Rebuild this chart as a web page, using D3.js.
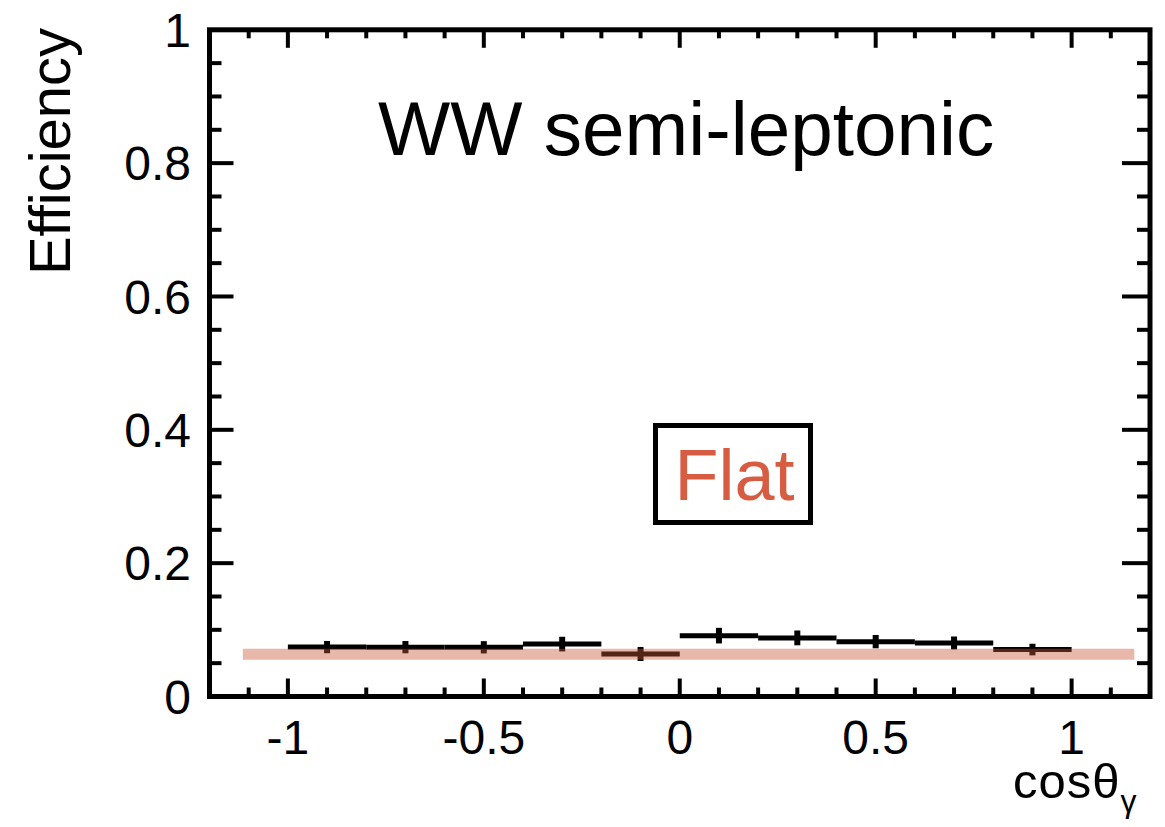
<!DOCTYPE html>
<html>
<head>
<meta charset="utf-8">
<script src="https://cdn.jsdelivr.net/npm/d3@7"></script>
<style>
    body { margin: 0; background: white; }
    svg text { font-family: "Liberation Sans", Arial, Helvetica, sans-serif; }
</style>
</head>
<body>
<svg id="chart"></svg>
<script>
// Bin edges of cos(theta_gamma) and measured efficiency per bin
const binLow = [-1.0, -0.8, -0.6, -0.4, -0.2, 0.0, 0.2, 0.4, 0.6, 0.8];
const binHigh = [-0.8, -0.6, -0.4, -0.2, 0.0, 0.2, 0.4, 0.6, 0.8, 1.0];
const efficiency = [0.0741, 0.0740, 0.0738, 0.0786, 0.0638, 0.0913, 0.0879, 0.0823, 0.0803, 0.0704];
const efficiencyErr = [0.0092, 0.0092, 0.0092, 0.0110, 0.0105, 0.0117, 0.0111, 0.0100, 0.0097, 0.0087];

// Flat fit
const flatValue = 0.0635;
const flatRange = [-1.115, 1.16];

// Axes
const xTicks = [-1, -0.5, 0, 0.5, 1];
const xTickLabels = ["-1", "-0.5", "0", "0.5", "1"];
const yTicks = [0, 0.2, 0.4, 0.6, 0.8, 1];
const yTickLabels = ["0", "0.2", "0.4", "0.6", "0.8", "1"];
const xDomain = [-1.2, 1.2];
const yDomain = [0, 1];

const data = binLow.map((lo, i) => ({
    lo,
    hi: binHigh[i],
    mid: (lo + binHigh[i]) / 2,
    val: efficiency[i],
    err: efficiencyErr[i]
}));

const W = 1165, H = 827;
const box = { left: 209.5, right: 1150, top: 29.8, bottom: 696.5 };

const svg = d3.select("#chart")
    .attr("width", W)
    .attr("height", H);

const x = d3.scaleLinear().domain(xDomain).range([box.left, box.right]);
const y = d3.scaleLinear().domain(yDomain).range([box.bottom, box.top]);

const ink = "#000";
const lw = 5;

// Ticks (ROOT style, inside the frame on all four sides)
const xMinor = d3.range(-1.1, 1.2, 0.1).map(v => +v.toFixed(2));
const yMinor = d3.range(0.05, 1.0, 0.05).map(v => +v.toFixed(2));
const isXMajor = v => xTicks.some(t => Math.abs(t - v) < 1e-6);
const isYMajor = v => yTicks.some(t => Math.abs(t - v) < 1e-6);

const ticks = svg.append("g").attr("stroke", ink).attr("stroke-width", 4);

ticks.selectAll(".xb").data(xMinor).enter().append("line")
    .attr("x1", d => x(d)).attr("x2", d => x(d))
    .attr("y1", box.bottom).attr("y2", d => box.bottom - (isXMajor(d) ? 18 : 9));

ticks.selectAll(".xt").data(xMinor).enter().append("line")
    .attr("x1", d => x(d)).attr("x2", d => x(d))
    .attr("y1", box.top).attr("y2", d => box.top + (isXMajor(d) ? 18 : 8.5));

ticks.selectAll(".yl").data(yMinor).enter().append("line")
    .attr("y1", d => y(d)).attr("y2", d => y(d))
    .attr("x1", box.left).attr("x2", d => box.left + (isYMajor(d) ? 24 : 12));

ticks.selectAll(".yr").data(yMinor).enter().append("line")
    .attr("y1", d => y(d)).attr("y2", d => y(d))
    .attr("x1", box.right).attr("x2", d => box.right - (isYMajor(d) ? 28 : 13));

// Frame
svg.append("rect")
    .attr("x", box.left)
    .attr("y", box.top)
    .attr("width", box.right - box.left)
    .attr("height", box.bottom - box.top)
    .attr("fill", "none")
    .attr("stroke", ink)
    .attr("stroke-width", lw);

// Tick labels
svg.selectAll(".xlab")
    .data(xTicks)
    .enter().append("text")
    .attr("x", d => x(d))
    .attr("y", 754)
    .attr("text-anchor", "middle")
    .style("font-size", "48px")
    .text((d, i) => xTickLabels[i]);

svg.selectAll(".ylab")
    .data(yTicks)
    .enter().append("text")
    .attr("x", 191)
    .attr("y", d => y(d))
    .attr("dy", "0.36em")
    .attr("text-anchor", "end")
    .style("font-size", "48px")
    .text((d, i) => yTickLabels[i]);

// Axis titles
svg.append("text")
    .attr("transform", "translate(70,151.5) rotate(-90)")
    .attr("text-anchor", "middle")
    .style("font-size", "58px")
    .text("Efficiency");

const xt = svg.append("text")
    .attr("x", 1013)
    .attr("y", 798)
    .style("font-size", "49px")
    .style("letter-spacing", "1px");
xt.append("tspan").text("cosθ");
xt.append("tspan").attr("dy", 14).style("font-size", "32px").text("γ");

// Data: horizontal bin widths + vertical errors
const hist = svg.append("g").attr("stroke", ink).attr("stroke-width", lw);

hist.selectAll(".hbar")
    .data(data)
    .enter().append("line")
    .attr("x1", d => x(d.lo))
    .attr("x2", d => x(d.hi))
    .attr("y1", d => y(d.val))
    .attr("y2", d => y(d.val));

hist.selectAll(".ebar")
    .data(data)
    .enter().append("line")
    .attr("x1", d => x(d.mid))
    .attr("x2", d => x(d.mid))
    .attr("y1", d => y(d.val - d.err))
    .attr("y2", d => y(d.val + d.err))
    .attr("stroke-width", 6);

// Flat fit band (semi-transparent, drawn on top)
svg.append("line")
    .attr("x1", x(flatRange[0]))
    .attr("x2", x(flatRange[1]))
    .attr("y1", y(flatValue))
    .attr("y2", y(flatValue))
    .attr("stroke", "rgb(200,85,55)")
    .attr("stroke-opacity", 0.42)
    .attr("stroke-width", 11);

// Annotations
svg.append("text")
    .attr("x", 378)
    .attr("y", 155)
    .style("font-size", "76.5px")
    .text("WW semi-leptonic");

svg.append("rect")
    .attr("x", 655.5)
    .attr("y", 425.5)
    .attr("width", 155)
    .attr("height", 97)
    .attr("fill", "white")
    .attr("stroke", ink)
    .attr("stroke-width", lw);

svg.append("text")
    .attr("x", 734.5)
    .attr("y", 500)
    .attr("text-anchor", "middle")
    .style("font-size", "72px")
    .style("fill", "rgb(214,92,66)")
    .text("Flat");
</script>
</body>
</html>
